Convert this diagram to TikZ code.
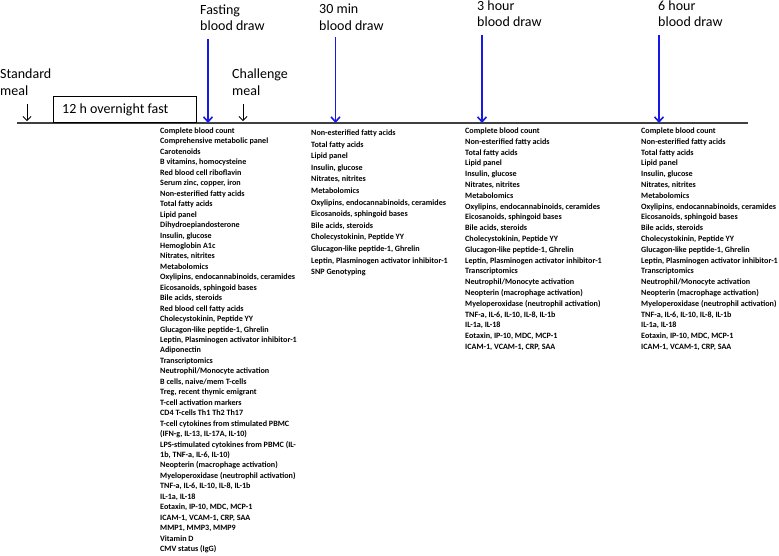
\documentclass[tikz,border=0pt]{standalone}
\usepackage{fontspec}
\setmainfont{Carlito}
\usetikzlibrary{arrows.meta}
\definecolor{drawblue}{RGB}{25,25,230}
\begin{document}
\begin{tikzpicture}[x=1pt, y=-1pt,
		title/.style={anchor=base west, inner sep=0, align=left,
			font=\fontsize{14}{16.5}\selectfont},
		assay/.style={anchor=base west, inner sep=0, align=left,
			font=\fontsize{8.1}{10.45}\selectfont\bfseries},
		blood arrow/.style={draw=drawblue, line width=1.6pt,
			-{Straight Barb[length=5pt, width=9pt]}},
		meal arrow/.style={line width=0.8pt,
			-{Straight Barb[length=4pt, width=8pt]}} ]
	\useasboundingbox (0,0) rectangle (779,555);
	% timeline and fasting period
	\coordinate (t0) at (17,123);
	\coordinate (t1) at (748,123);
	\draw[black!75, line width=1.3pt] (t0) -- (t1);
	\node [draw, line width=0.8pt, minimum width=143, minimum height=26,
		anchor=south west, inner sep=0] (fast) at (53,123) {};
	\node [title] (fasttxt) at (62,113.5) {12 h overnight fast};
	% meals (anchored at the last line)
	\node [title] (standard) at (0,95) {Standard\\meal};
	\node [title] (challenge) at (232,95) {Challenge\\meal};
	\coordinate (std top) at (27,104);
	\coordinate (std end) at (27,121);
	\coordinate (chl top) at (243,104);
	\coordinate (chl end) at (243,121);
	\draw[meal arrow] (std top) -- (std end);
	\draw[meal arrow] (chl top) -- (chl end);
	% blood draws
	\node [title] (fasting) at (200,30.5) {Fasting\\blood draw};
	\node [title] (min30) at (319,30) {30 min\\blood draw};
	\node [title] (hour3) at (477,26.5) {3 hour\\blood draw};
	\node [title] (hour6) at (658,26.5) {6 hour\\blood draw};
	\coordinate (fasting top) at (208,39);
	\coordinate (fasting end) at (208,123);
	\coordinate (min30 top) at (335.5,37);
	\coordinate (min30 end) at (335.5,123);
	\coordinate (hour3 top) at (482,35);
	\coordinate (hour3 end) at (482,123);
	\coordinate (hour6 top) at (659,35);
	\coordinate (hour6 end) at (659,123);
	\draw[blood arrow] (fasting top) -- (fasting end);
	\draw[blood arrow] (min30 top) -- (min30 end);
	\draw[blood arrow] (hour3 top) -- (hour3 end);
	\draw[blood arrow] (hour6 top) -- (hour6 end);
	% measurements (anchored at the last line)
	\node [assay] (fasting list) at (160,551.5) {Complete blood count\\
		Comprehensive metabolic panel\\
		Carotenoids\\
		B vitamins, homocysteine\\
		Red blood cell riboflavin\\
		Serum zinc, copper, iron\\
		Non-esterified fatty acids\\
		Total fatty acids\\
		Lipid panel\\
		Dihydroepiandosterone\\
		Insulin, glucose\\
		Hemoglobin A1c\\
		Nitrates, nitrites\\
		Metabolomics\\
		Oxylipins, endocannabinoids, ceramides\\
		Eicosanoids, sphingoid bases\\
		Bile acids, steroids\\
		Red blood cell fatty acids\\
		Cholecystokinin, Peptide YY\\
		Glucagon-like peptide-1, Ghrelin\\
		Leptin, Plasminogen activator inhibitor-1\\
		Adiponectin\\
		Transcriptomics\\
		Neutrophil/Monocyte activation\\
		B cells, naive/mem T-cells\\
		Treg, recent thymic emigrant\\
		T-cell activation markers\\
		CD4 T-cells Th1 Th2 Th17\\
		T-cell cytokines from stimulated PBMC\\
		(IFN-g, IL-13, IL-17A, IL-10)\\
		LPS-stimulated cytokines from PBMC (IL-\\
		1b, TNF-a, IL-6, IL-10)\\
		Neopterin (macrophage activation)\\
		Myeloperoxidase (neutrophil activation)\\
		TNF-a, IL-6, IL-10, IL-8, IL-1b\\
		IL-1a, IL-18\\
		Eotaxin, IP-10, MDC, MCP-1\\
		ICAM-1, VCAM-1, CRP, SAA\\
		MMP1, MMP3, MMP9\\
		Vitamin D\\
		CMV status (IgG)};
	\node [assay, font=\fontsize{8.1}{11.6}\selectfont\bfseries] (min30 list) at (311,274.7) {Non-esterified fatty acids\\
		Total fatty acids\\
		Lipid panel\\
		Insulin, glucose\\
		Nitrates, nitrites\\
		Metabolomics\\
		Oxylipins, endocannabinoids, ceramides\\
		Eicosanoids, sphingoid bases\\
		Bile acids, steroids\\
		Cholecystokinin, Peptide YY\\
		Glucagon-like peptide-1, Ghrelin\\
		Leptin, Plasminogen activator inhibitor-1\\
		SNP Genotyping};
	\node [assay, font=\fontsize{8.1}{10.8}\selectfont\bfseries] (hour3 list) at (465,349.5) {Complete blood count\\
		Non-esterified fatty acids\\
		Total fatty acids\\
		Lipid panel\\
		Insulin, glucose\\
		Nitrates, nitrites\\
		Metabolomics\\
		Oxylipins, endocannabinoids, ceramides\\
		Eicosanoids, sphingoid bases\\
		Bile acids, steroids\\
		Cholecystokinin, Peptide YY\\
		Glucagon-like peptide-1, Ghrelin\\
		Leptin, Plasminogen activator inhibitor-1\\
		Transcriptomics\\
		Neutrophil/Monocyte activation\\
		Neopterin (macrophage activation)\\
		Myeloperoxidase (neutrophil activation)\\
		TNF-a, IL-6, IL-10, IL-8, IL-1b\\
		IL-1a, IL-18\\
		Eotaxin, IP-10, MDC, MCP-1\\
		ICAM-1, VCAM-1, CRP, SAA};
	\node [assay, font=\fontsize{8.1}{10.8}\selectfont\bfseries] (hour6 list) at (641,349.5) {Complete blood count\\
		Non-esterified fatty acids\\
		Total fatty acids\\
		Lipid panel\\
		Insulin, glucose\\
		Nitrates, nitrites\\
		Metabolomics\\
		Oxylipins, endocannabinoids, ceramides\\
		Eicosanoids, sphingoid bases\\
		Bile acids, steroids\\
		Cholecystokinin, Peptide YY\\
		Glucagon-like peptide-1, Ghrelin\\
		Leptin, Plasminogen activator inhibitor-1\\
		Transcriptomics\\
		Neutrophil/Monocyte activation\\
		Neopterin (macrophage activation)\\
		Myeloperoxidase (neutrophil activation)\\
		TNF-a, IL-6, IL-10, IL-8, IL-1b\\
		IL-1a, IL-18\\
		Eotaxin, IP-10, MDC, MCP-1\\
		ICAM-1, VCAM-1, CRP, SAA};
\end{tikzpicture}
\end{document}
